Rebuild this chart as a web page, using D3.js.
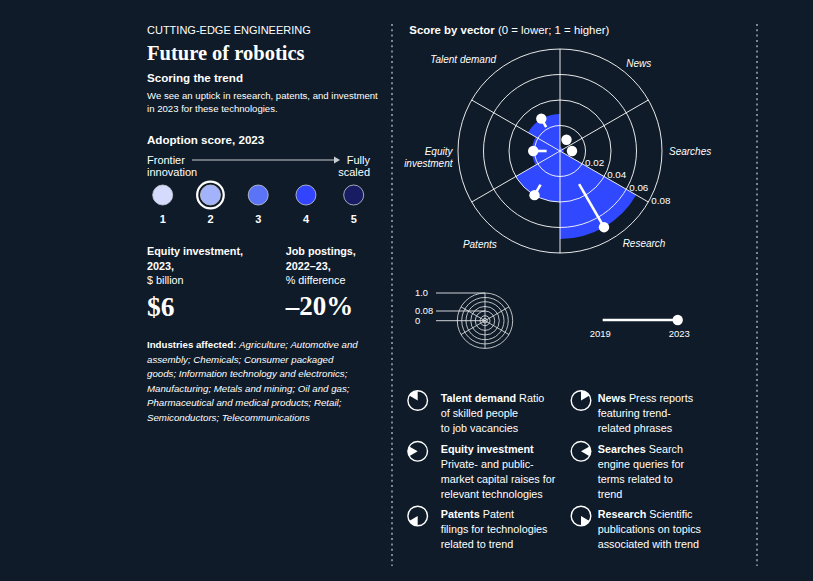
<!DOCTYPE html>
<html><head><meta charset="utf-8">
<script src="https://cdn.jsdelivr.net/npm/d3@7"></script>
<style>
html,body{margin:0;padding:0;background:#0f1b28;}
svg{display:block;font-family:"Liberation Sans",Arial,sans-serif;}
</style></head>
<body><svg id="c" width="813" height="581"></svg>
<script>
// ---- data ----
const categories = ["News","Searches","Research","Patents","Equity investment","Talent demand"];
const scores2023 = [0.0102, 0.0094, 0.069, 0.040, 0.021, 0.0293];
const scores2019 = [0.0085, 0.0080, 0.030, 0.0305, 0.0105, 0.0217];
const barValues = [0.003, 0.003, 0.069, 0.040, 0.022, 0.029];
const ringTicks = [0.02, 0.04, 0.06, 0.08];
const adoptionLevels = [1, 2, 3, 4, 5];
const adoptionColors = ["#d5dbfd", "#a2b2fb", "#5b73f6", "#3344ff", "#171c63"];
const adoptionCurrent = 2;
const miniLabels = ["1.0", "0.08", "0"];
const years = ["2019", "2023"];
const legendItems = [
  {cat:"Talent demand", lines:[["Talent demand"," Ratio"],["","of skilled people"],["","to job vacancies"]]},
  {cat:"Equity investment", lines:[["Equity investment",""],["","Private- and public-"],["","market capital raises for"],["","relevant technologies"]]},
  {cat:"Patents", lines:[["Patents"," Patent"],["","filings for technologies"],["","related to trend"]]},
  {cat:"News", lines:[["News"," Press reports"],["","featuring trend-"],["","related phrases"]]},
  {cat:"Searches", lines:[["Searches"," Search"],["","engine queries for"],["","terms related to"],["","trend"]]},
  {cat:"Research", lines:[["Research"," Scientific"],["","publications on topics"],["","associated with trend"]]}
];
const industries = [
  [["Industries affected: ","b"],["Agriculture; Automotive and","i"]],
  [["assembly; Chemicals; Consumer packaged","i"]],
  [["goods; Information technology and electronics;","i"]],
  [["Manufacturing; Metals and mining; Oil and gas;","i"]],
  [["Pharmaceutical and medical products; Retail;","i"]],
  [["Semiconductors; Telecommunications","i"]]
];

// ---- drawing ----
const svg = d3.select("#c");
const W = "#ffffff", BLUE = "#3048ff";
svg.append("rect").attr("width",813).attr("height",581).attr("fill","#0f1b28");

function txt(x,y,s,size,opts={}){
  const t = svg.append("text").attr("x",x).attr("y",y).attr("dy","0.35em")
    .attr("fill",W).attr("font-size",size).text(s);
  if(opts.w) t.attr("font-weight",opts.w);
  if(opts.a) t.attr("text-anchor",opts.a);
  if(opts.f) t.attr("font-family",opts.f);
  if(opts.i) t.attr("font-style","italic");
  return t;
}

// dotted separators
[392, 757].forEach(x=>{
  svg.append("line").attr("x1",x).attr("x2",x).attr("y1",24).attr("y2",566)
    .attr("stroke","#a3abb5").attr("stroke-width",1.5).attr("stroke-dasharray","2,3.3");
});

// left panel
const L = 147;
txt(L,30,"CUTTING-EDGE ENGINEERING",11);
txt(L,53.2,"Future of robotics",20.5,{w:"bold",f:"'Liberation Serif','DejaVu Serif',serif"});
txt(L,77.7,"Scoring the trend",11.6,{w:"bold"});
txt(L,96,"We see an uptick in research, patents, and investment",9.6);
txt(L,108.5,"in 2023 for these technologies.",9.6);
txt(L,140,"Adoption score, 2023",11.6,{w:"bold"});
txt(L,160,"Frontier",11);
txt(L,171.7,"innovation",11);
txt(370,160,"Fully",11,{a:"end"});
txt(370,171.7,"scaled",11,{a:"end"});
svg.append("line").attr("x1",192).attr("x2",334).attr("y1",160).attr("y2",160)
  .attr("stroke","#c9cdd3").attr("stroke-width",1);
svg.append("path").attr("d","M334,156.5 L340,160 L334,163.5 Z").attr("fill","#c9cdd3");

const ax = d3.scalePoint().domain(adoptionLevels).range([162.7,353.7]);
const ag = svg.append("g");
ag.selectAll("circle.a").data(adoptionLevels).join("circle")
  .attr("cx",d=>ax(d)).attr("cy",195).attr("r",10)
  .attr("fill",(d,i)=>adoptionColors[i]).attr("stroke","#c8ccd8").attr("stroke-width",0.8);
ag.append("circle").attr("cx",ax(adoptionCurrent)).attr("cy",195).attr("r",13.3)
  .attr("fill","none").attr("stroke",W).attr("stroke-width",2.2);
ag.selectAll("text").data(adoptionLevels).join("text")
  .attr("x",d=>ax(d)).attr("y",219.3).attr("dy","0.35em").attr("text-anchor","middle")
  .attr("fill",W).attr("font-size",11).attr("font-weight","bold").text(d=>d);

txt(L,251.7,"Equity investment,",10.8,{w:"bold"});
txt(L,266,"2023,",10.8,{w:"bold"});
txt(L,280.7,"$ billion",10.8);
txt(L,306,"$6",27.5,{w:"bold",f:"'Liberation Serif','DejaVu Serif',serif"});
const J = 285.7;
txt(J,251.7,"Job postings,",10.8,{w:"bold"});
txt(J,266,"2022–23,",10.8,{w:"bold"});
txt(J,280.7,"% difference",10.8);
txt(J,306,"–20%",27,{w:"bold",f:"'Liberation Serif','DejaVu Serif',serif"});

industries.forEach((line,i)=>{
  const t = svg.append("text").attr("x",L).attr("y",345+i*14.5).attr("dy","0.35em")
    .attr("fill",W).attr("font-size",9.7);
  line.forEach(([s,st])=>{
    const sp = t.append("tspan").text(s);
    if(st==="b") sp.attr("font-weight","bold");
    else sp.attr("font-style","italic");
  });
});

// right panel
const tt = svg.append("text").attr("x",409.3).attr("y",30).attr("dy","0.35em")
  .attr("fill",W).attr("font-size",11.4);
tt.append("tspan").attr("font-weight","bold").text("Score by vector");
tt.append("tspan").text(" (0 = lower; 1 = higher)");

const cx = 560, cy = 151;
const r = d3.scaleLinear().domain([0,0.08]).range([0,102]);
const step = 2*Math.PI/categories.length;
const g = svg.append("g").attr("transform",`translate(${cx},${cy})`);
const arc = d3.arc();

// bars
g.selectAll("path.bar").data(barValues).join("path").attr("class","bar")
  .attr("d",(v,i)=>arc({innerRadius:0,outerRadius:r(v),startAngle:i*step,endAngle:(i+1)*step}))
  .attr("fill",BLUE);

// rings and spokes
g.selectAll("circle.ring").data(ringTicks).join("circle").attr("class","ring")
  .attr("r",d=>r(d)).attr("fill","none").attr("stroke",W).attr("stroke-width",0.9);
g.selectAll("line.spoke").data(categories).join("line").attr("class","spoke")
  .attr("x1",0).attr("y1",0)
  .attr("x2",(d,i)=>d3.pointRadial(i*step,r(0.08))[0])
  .attr("y2",(d,i)=>d3.pointRadial(i*step,r(0.08))[1])
  .attr("stroke",W).attr("stroke-width",0.9);

// ring labels along the Research boundary spoke
g.selectAll("text.rl").data(ringTicks).join("text").attr("class","rl")
  .attr("x",d=>d3.pointRadial(2*step,r(d))[0]+3)
  .attr("y",d=>d3.pointRadial(2*step,r(d))[1]-1.5)
  .attr("dy","0.35em").attr("fill",W).attr("font-size",9.8)
  .text(d=>d3.format(".2f")(d));

// lollipops
categories.forEach((c,i)=>{
  const a = (i+0.5)*step;
  const p0 = d3.pointRadial(a,r(scores2019[i])), p1 = d3.pointRadial(a,r(scores2023[i]));
  g.append("line").attr("x1",p0[0]).attr("y1",p0[1]).attr("x2",p1[0]).attr("y2",p1[1])
    .attr("stroke",W).attr("stroke-width",2.6);
  g.append("circle").attr("cx",p1[0]).attr("cy",p1[1]).attr("r",5.2).attr("fill",W);
});

// category labels
const labelShift = [7,0,-4,4,0,-5];
const labelR = [110,109,112,113,107.5,111.5];
categories.forEach((c,i)=>{
  const a = ((i+0.5)*step) + labelShift[i]*Math.PI/180;
  const p = d3.pointRadial(a,labelR[i]);
  const anchor = Math.sin(a) >= 0 ? "start" : "end";
  const words = c === "Equity investment" ? ["Equity","investment"] : [c];
  words.forEach((w,k)=>{
    g.append("text").attr("x",p[0]).attr("y",p[1]+k*12.3).attr("dy","0.35em")
      .attr("text-anchor",anchor).attr("fill",W).attr("font-size",10)
      .attr("font-style","italic").text(w);
  });
});

// mini scale legend
const mcx = 485, mcy = 320.7;
const mr = d3.scaleLinear().domain([0,1]).range([0,27.7]);
const miniRings = [0.083,0.18,0.35,0.516,0.686,0.84,1];
const mg = svg.append("g").attr("transform",`translate(${mcx},${mcy})`);
mg.selectAll("circle").data(miniRings).join("circle").attr("r",d=>mr(d))
  .attr("fill","none").attr("stroke","#e6e8ea").attr("stroke-width",0.8);
mg.selectAll("line").data(categories).join("line")
  .attr("x1",0).attr("y1",0)
  .attr("x2",(d,i)=>d3.pointRadial(i*step,mr(1))[0])
  .attr("y2",(d,i)=>d3.pointRadial(i*step,mr(1))[1])
  .attr("stroke","#e6e8ea").attr("stroke-width",0.8);
const miniLevel = [1, 0.35, 0];
miniLabels.forEach((s,i)=>{
  const y = mcy - mr(miniLevel[i]);
  txt(415,y,s,9.3);
  svg.append("line").attr("x1",436).attr("x2",mcx).attr("y1",y).attr("y2",y)
    .attr("stroke","#e6e8ea").attr("stroke-width",0.9);
});

// timeline legend
const tx = d3.scalePoint().domain(years).range([602.7,677.7]);
svg.append("line").attr("x1",tx(years[0])).attr("x2",tx(years[1])).attr("y1",320).attr("y2",320)
  .attr("stroke",W).attr("stroke-width",2.6);
svg.append("circle").attr("cx",tx(years[1])).attr("cy",320).attr("r",5.2).attr("fill",W);
years.forEach((y,i)=>txt(tx(y)+(i?1.5:-2.5),333.7,y,9.5,{a:"middle"}));

// bottom legend
const colX = [417.7, 581], textX = [440.7, 597.7], rowY = [398.5, 449.3, 514];
legendItems.forEach((it,k)=>{
  const col = Math.floor(k/3), row = k%3;
  const idx = categories.indexOf(it.cat);
  const ig = svg.append("g").attr("transform",`translate(${colX[col]},${rowY[row]+2})`);
  ig.append("circle").attr("r",9.8).attr("fill","none").attr("stroke",W).attr("stroke-width",1.4);
  ig.append("path").attr("d",arc({innerRadius:0,outerRadius:9.8,startAngle:idx*step,endAngle:(idx+1)*step}))
    .attr("fill",W);
  it.lines.forEach(([b,rest],j)=>{
    const t = svg.append("text").attr("x",textX[col]).attr("y",rowY[row]+j*14.9).attr("dy","0.35em")
      .attr("fill",W).attr("font-size",10.8);
    if(b) t.append("tspan").attr("font-weight","bold").text(b);
    if(rest) t.append("tspan").text(rest);
  });
});
</script></body></html>
